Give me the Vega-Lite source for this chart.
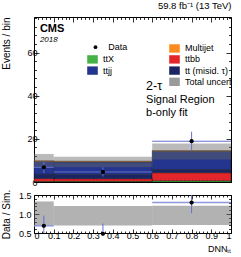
{
  "$schema": "https://vega.github.io/schema/vega-lite/v6.json",
  "padding": {"left": 0, "top": 0, "right": 10, "bottom": 0},
  "config": {
    "font": "Liberation Sans",
    "view": {"stroke": "black", "strokeWidth": 1},
    "concat": {"spacing": 0},
    "legend": {"offset": 0},
    "axis": {"grid": false, "domain": false, "labelFont": "Liberation Sans", "titleFont": "Liberation Sans", "labelFontSize": 9, "titleFontSize": 10, "titleFontWeight": "normal", "tickColor": "black", "labelColor": "black", "titleColor": "black", "labelOverlap": false, "tickWidth": 0.8}
  },
  "datasets": {
    "stack": [
      {"lo": 0, "hi": 0.1, "proc": "ttX", "n": 0.3, "order": 1},
      {"lo": 0, "hi": 0.1, "proc": "ttbb", "n": 1.3, "order": 2},
      {"lo": 0, "hi": 0.1, "proc": "tt (misid. τ)", "n": 2.0, "order": 3},
      {"lo": 0, "hi": 0.1, "proc": "ttjj", "n": 5.9, "order": 4},
      {"lo": 0, "hi": 0.1, "proc": "Multijet", "n": 0.4, "order": 5},
      {"lo": 0.1, "hi": 0.6, "proc": "ttX", "n": 0.3, "order": 1},
      {"lo": 0.1, "hi": 0.6, "proc": "ttbb", "n": 1.2, "order": 2},
      {"lo": 0.1, "hi": 0.6, "proc": "tt (misid. τ)", "n": 2.0, "order": 3},
      {"lo": 0.1, "hi": 0.6, "proc": "ttjj", "n": 5.8, "order": 4},
      {"lo": 0.1, "hi": 0.6, "proc": "Multijet", "n": 0.4, "order": 5},
      {"lo": 0.6, "hi": 1.0, "proc": "ttX", "n": 0.6, "order": 1},
      {"lo": 0.6, "hi": 1.0, "proc": "ttbb", "n": 3.7, "order": 2},
      {"lo": 0.6, "hi": 1.0, "proc": "tt (misid. τ)", "n": 1.5, "order": 3},
      {"lo": 0.6, "hi": 1.0, "proc": "ttjj", "n": 8.4, "order": 4},
      {"lo": 0.6, "hi": 1.0, "proc": "Multijet", "n": 0.4, "order": 5}
    ],
    "unc": [
      {"lo": 0, "hi": 0.1, "down": 6.9, "up": 13.0},
      {"lo": 0.1, "hi": 0.6, "down": 6.8, "up": 11.7},
      {"lo": 0.6, "hi": 1.0, "down": 10.4, "up": 17.8}
    ],
    "runc": [
      {"lo": 0, "hi": 0.1, "down": 0.70, "up": 1.33},
      {"lo": 0.1, "hi": 0.6, "down": 0.70, "up": 1.21},
      {"lo": 0.6, "hi": 1.0, "down": 0.71, "up": 1.22}
    ],
    "obs": [
      {"xc": 0.05, "lo": 0, "hi": 0.1, "y": 6.8, "elo": 4.2, "ehi": 9.4, "r": 0.69, "rlo": 0.42, "rhi": 0.96},
      {"xc": 0.35, "lo": 0.1, "hi": 0.6, "y": 4.65, "elo": 2.5, "ehi": 6.8, "r": 0.48, "rlo": 0.26, "rhi": 0.75},
      {"xc": 0.8, "lo": 0.6, "hi": 1.0, "y": 18.9, "elo": 14.5, "ehi": 23.3, "r": 1.3, "rlo": 1.02, "rhi": 1.62}
    ]
  },
  "vconcat": [
    {
      "width": 197,
      "height": 165,
      "title": {"text": "59.8 fb⁻¹ (13 TeV)", "anchor": "end", "fontSize": 9.5, "fontWeight": "normal", "offset": 4, "font": "Liberation Sans", "color": "black"},
      "resolve": {"axis": {"x": "independent", "y": "independent"}},
      "layer": [
        {
          "data": {"name": "stack"},
          "transform": [{"stack": "n", "groupby": ["lo"], "sort": [{"field": "order", "order": "ascending"}], "as": ["s0", "s1"]}],
          "mark": {"type": "rect", "stroke": "black", "strokeWidth": 0.5, "strokeOpacity": 0.7},
          "encoding": {
            "x": {"field": "lo", "type": "quantitative", "scale": {"domain": [0, 1], "nice": false, "zero": false},
              "axis": {"orient": "bottom", "values": [0,0.02,0.04,0.06,0.08,0.1,0.12,0.14,0.16,0.18,0.2,0.22,0.24,0.26,0.28,0.3,0.32,0.34,0.36,0.38,0.4,0.42,0.44,0.46,0.48,0.5,0.52,0.54,0.56,0.58,0.6,0.62,0.64,0.66,0.68,0.7,0.72,0.74,0.76,0.78,0.8,0.82,0.84,0.86,0.88,0.9,0.92,0.94,0.96,0.98,1],
                "labels": false, "title": null,
                "tickSize": {"condition": {"test": "abs(datum.value*10-round(datum.value*10))<0.01", "value": -5}, "value": -2.5}}},
            "x2": {"field": "hi"},
            "y": {"field": "s0", "type": "quantitative", "scale": {"domain": [0, 76.5], "nice": false},
              "axis": {"orient": "left", "values": [0,4,8,12,16,20,24,28,32,36,40,44,48,52,56,60,64,68,72,76],
                "labelExpr": "datum.value % 20 === 0 ? datum.label : ''",
                "tickSize": {"condition": {"test": "datum.value % 20 === 0", "value": -5}, "value": -2.5},
                "labelPadding": 2, "minExtent": 20, "maxExtent": 20, "title": "Events / bin", "titleAnchor": "end", "titlePadding": 3}},
            "y2": {"field": "s1"},
            "color": {"field": "proc", "type": "nominal",
              "scale": {"domain": ["  ", "ttX", "ttjj", " ", "Multijet", "ttbb", "tt (misid. τ)", "Total uncert"],
                "range": ["transparent", "#46b246", "#24358f", "transparent", "#fb8b1e", "#e3262a", "#1b2562", "#9a9a9a"]},
              "legend": {"orient": "none", "legendX": 53, "legendY": 25.7, "offset": 0, "columns": 2, "title": null, "padding": 0,
                "labelFontSize": 9, "labelFont": "Liberation Sans", "labelColor": "black", "labelLimit": 150, "symbolSize": 112,
                "symbolType": "M-1,-0.79H1V0.79H-1Z", "symbolStrokeWidth": 0, "rowPadding": 0.2, "columnPadding": 54, "labelOffset": 5,
                "values": ["  ", "ttX", "ttjj", " ", "Multijet", "ttbb", "tt (misid. τ)", "Total uncert"]}}
          }
        },
        {
          "data": {"name": "unc"},
          "mark": {"type": "rect", "fill": "#666666", "opacity": 0.45},
          "encoding": {
            "x": {"field": "lo", "type": "quantitative",
              "axis": {"orient": "top", "values": [0,0.02,0.04,0.06,0.08,0.1,0.12,0.14,0.16,0.18,0.2,0.22,0.24,0.26,0.28,0.3,0.32,0.34,0.36,0.38,0.4,0.42,0.44,0.46,0.48,0.5,0.52,0.54,0.56,0.58,0.6,0.62,0.64,0.66,0.68,0.7,0.72,0.74,0.76,0.78,0.8,0.82,0.84,0.86,0.88,0.9,0.92,0.94,0.96,0.98,1],
                "labels": false, "title": null,
                "tickSize": {"condition": {"test": "abs(datum.value*10-round(datum.value*10))<0.01", "value": -5}, "value": -2.5}}},
            "x2": {"field": "hi"},
            "y": {"field": "down", "type": "quantitative",
              "axis": {"orient": "right", "values": [0,4,8,12,16,20,24,28,32,36,40,44,48,52,56,60,64,68,72,76], "labels": false, "title": null,
                "tickSize": {"condition": {"test": "datum.value % 20 === 0", "value": -5}, "value": -2.5}}},
            "y2": {"field": "up"}
          }
        },
        {
          "data": {"name": "obs"},
          "mark": {"type": "rule", "color": "#6470d0", "strokeWidth": 1},
          "encoding": {
            "x": {"field": "xc", "type": "quantitative", "axis": null},
            "y": {"field": "elo", "type": "quantitative", "axis": null},
            "y2": {"field": "ehi"}
          }
        },
        {
          "data": {"name": "obs"},
          "mark": {"type": "rule", "color": "#6470d0", "strokeWidth": 1},
          "encoding": {
            "x": {"field": "lo", "type": "quantitative", "axis": null},
            "x2": {"field": "hi"},
            "y": {"field": "y", "type": "quantitative", "axis": null}
          }
        },
        {
          "data": {"name": "obs"},
          "mark": {"type": "point", "filled": true, "color": "black", "size": 18, "opacity": 1},
          "encoding": {
            "x": {"field": "xc", "type": "quantitative", "axis": null},
            "y": {"field": "y", "type": "quantitative", "axis": null},
            "shape": {"datum": "Data", "type": "nominal", "scale": {"range": ["circle"]},
              "legend": {"orient": "none", "legendX": 57, "legendY": 25.7, "offset": 0, "title": null, "padding": 0,
                "labelFontSize": 9, "labelFont": "Liberation Sans", "labelColor": "black", "symbolSize": 14,
                "symbolFillColor": "black", "symbolStrokeWidth": 0, "labelOffset": 8.2}}
          }
        },
        {
          "data": {"values": [{}]},
          "mark": {"type": "text", "text": "CMS", "fontWeight": "bold", "fontSize": 11, "align": "left", "baseline": "alphabetic", "color": "black"},
          "encoding": {"x": {"datum": 0.03, "type": "quantitative", "axis": null}, "y": {"datum": 69.4, "type": "quantitative", "axis": null}}
        },
        {
          "data": {"values": [{}]},
          "mark": {"type": "text", "text": "2018", "fontStyle": "italic", "fontSize": 8, "align": "left", "baseline": "alphabetic", "color": "black"},
          "encoding": {"x": {"datum": 0.03, "type": "quantitative", "axis": null}, "y": {"datum": 64.9, "type": "quantitative", "axis": null}}
        },
        {
          "data": {"values": [{}]},
          "mark": {"type": "text", "text": "2-τ", "fontSize": 12.5, "align": "left", "baseline": "alphabetic", "color": "black"},
          "encoding": {"x": {"datum": 0.569, "type": "quantitative", "axis": null}, "y": {"datum": 42.6, "type": "quantitative", "axis": null}}
        },
        {
          "data": {"values": [{}]},
          "mark": {"type": "text", "text": "Signal Region", "fontSize": 11, "align": "left", "baseline": "alphabetic", "color": "black"},
          "encoding": {"x": {"datum": 0.569, "type": "quantitative", "axis": null}, "y": {"datum": 36.8, "type": "quantitative", "axis": null}}
        },
        {
          "data": {"values": [{}]},
          "mark": {"type": "text", "text": "b-only fit", "fontSize": 11, "align": "left", "baseline": "alphabetic", "color": "black"},
          "encoding": {"x": {"datum": 0.569, "type": "quantitative", "axis": null}, "y": {"datum": 30.4, "type": "quantitative", "axis": null}}
        }
      ]
    },
    {
      "width": 197,
      "height": 38,
      "resolve": {"axis": {"x": "independent", "y": "independent"}},
      "layer": [
        {
          "data": {"name": "runc"},
          "mark": {"type": "rect", "fill": "#666666", "opacity": 0.5},
          "encoding": {
            "x": {"field": "lo", "type": "quantitative", "scale": {"domain": [0, 1], "nice": false, "zero": false},
              "axis": {"orient": "bottom", "values": [0,0.02,0.04,0.06,0.08,0.1,0.12,0.14,0.16,0.18,0.2,0.22,0.24,0.26,0.28,0.3,0.32,0.34,0.36,0.38,0.4,0.42,0.44,0.46,0.48,0.5,0.52,0.54,0.56,0.58,0.6,0.62,0.64,0.66,0.68,0.7,0.72,0.74,0.76,0.78,0.8,0.82,0.84,0.86,0.88,0.9,0.92,0.94,0.96,0.98,1],
                "labelExpr": "abs(datum.value*10-round(datum.value*10))<0.01 ? format(datum.value, '.1~f') : ''",
                "tickSize": {"condition": {"test": "abs(datum.value*10-round(datum.value*10))<0.01", "value": -4}, "value": -2},
                "labelPadding": 2, "title": "DNNₜₜ", "titleAnchor": "end", "titleFontSize": 9, "titlePadding": 2}},
            "x2": {"field": "hi"},
            "y": {"field": "down", "type": "quantitative", "scale": {"domain": [0.5, 1.5], "nice": false, "zero": false},
              "axis": {"orient": "left", "values": [0.5,0.6,0.7,0.8,0.9,1.0,1.1,1.2,1.3,1.4,1.5],
                "labelExpr": "abs(datum.value*2-round(datum.value*2))<0.01 ? format(datum.value, '.1f') : ''",
                "tickSize": {"condition": {"test": "abs(datum.value*2-round(datum.value*2))<0.01", "value": -5}, "value": -2.5},
                "labelPadding": 8, "minExtent": 20, "maxExtent": 20, "title": "Data / Sim.", "titleAnchor": "middle", "titlePadding": 3}},
            "y2": {"field": "up"}
          }
        },
        {
          "data": {"name": "obs"},
          "mark": {"type": "rule", "color": "#6470d0", "strokeWidth": 1, "clip": true},
          "encoding": {
            "x": {"field": "xc", "type": "quantitative",
              "axis": {"orient": "top", "values": [0,0.02,0.04,0.06,0.08,0.1,0.12,0.14,0.16,0.18,0.2,0.22,0.24,0.26,0.28,0.3,0.32,0.34,0.36,0.38,0.4,0.42,0.44,0.46,0.48,0.5,0.52,0.54,0.56,0.58,0.6,0.62,0.64,0.66,0.68,0.7,0.72,0.74,0.76,0.78,0.8,0.82,0.84,0.86,0.88,0.9,0.92,0.94,0.96,0.98,1],
                "labels": false, "title": null,
                "tickSize": {"condition": {"test": "abs(datum.value*10-round(datum.value*10))<0.01", "value": -4}, "value": -2}}},
            "y": {"field": "rlo", "type": "quantitative",
              "axis": {"orient": "right", "values": [0.5,0.6,0.7,0.8,0.9,1.0,1.1,1.2,1.3,1.4,1.5], "labels": false, "title": null,
                "tickSize": {"condition": {"test": "abs(datum.value*2-round(datum.value*2))<0.01", "value": -5}, "value": -2.5}}},
            "y2": {"field": "rhi"}
          }
        },
        {
          "data": {"name": "obs"},
          "mark": {"type": "rule", "color": "#8f96dc", "strokeWidth": 1.5, "clip": true},
          "encoding": {
            "x": {"field": "lo", "type": "quantitative", "axis": null},
            "x2": {"field": "hi"},
            "y": {"field": "r", "type": "quantitative", "axis": null}
          }
        },
        {
          "data": {"name": "obs"},
          "mark": {"type": "circle", "color": "black", "size": 18, "opacity": 1},
          "encoding": {
            "x": {"field": "xc", "type": "quantitative", "axis": null},
            "y": {"field": "r", "type": "quantitative", "axis": null}
          }
        }
      ]
    }
  ]
}
